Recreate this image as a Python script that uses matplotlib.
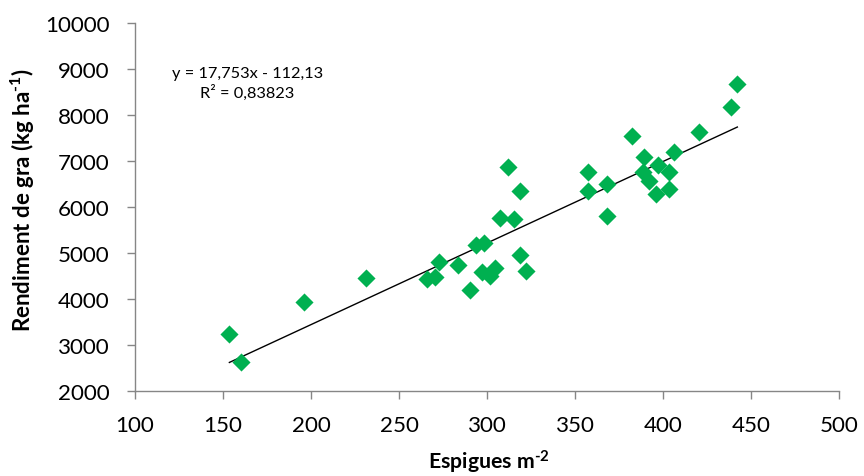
import matplotlib
matplotlib.use("Agg")
import matplotlib.pyplot as plt
import numpy as np

plt.rcParams['font.family'] = ['Lato', 'DejaVu Sans']
plt.rcParams['mathtext.fontset'] = 'custom'
plt.rcParams['mathtext.rm'] = 'Lato:bold'
plt.rcParams['mathtext.bf'] = 'Lato:bold'
plt.rcParams['mathtext.default'] = 'bf'

espigues = [153.6, 160.4, 195.8, 231.0, 265.7, 270.1, 272.9, 283.7, 290.4, 293.8,
            297.1, 298.0, 301.4, 304.7, 307.5, 311.7, 315.5, 318.6, 318.6, 322.3,
            357.5, 357.5, 368.0, 368.0, 382.2, 388.3, 388.9, 392.0, 395.9, 396.9,
            403.5, 403.5, 406.4, 420.6, 438.3, 442.1]
rendiment = [3240, 2630, 3940, 4450, 4430, 4470, 4790, 4740, 4190, 5170,
             4590, 5210, 4500, 4660, 5750, 6860, 5730, 6350, 4950, 4610,
             6750, 6350, 6500, 5800, 7540, 6750, 7090, 6570, 6280, 6910,
             6750, 6380, 7190, 7620, 8170, 8670]

slope = 17.753
intercept = -112.13
eq_text = "y = 17,753x - 112,13\nR² = 0,83823"

x_ticks = [100, 150, 200, 250, 300, 350, 400, 450, 500]
y_ticks = [2000, 3000, 4000, 5000, 6000, 7000, 8000, 9000, 10000]

H = 477
fig = plt.figure(figsize=(8.64, 4.77), dpi=100)
ax = fig.add_axes([135/864, 1-391.7/H, (839.3-135)/864, (391.7-24)/H])

ax.scatter(espigues, rendiment, marker='D', s=85, color='#00B050', linewidths=0, zorder=3)
xl = np.array([min(espigues), max(espigues)])
ax.plot(xl, slope*xl + intercept, color='black', lw=1.0, zorder=2)

ax.set_xlim(100, 500)
ax.set_ylim(2000, 10000)
ax.set_xticks(x_ticks)
ax.set_yticks(y_ticks)
ax.set_xticklabels([str(v) for v in x_ticks])
ax.set_yticklabels([str(v) for v in y_ticks])
ax.tick_params(axis='both', labelsize=16, color='#868686', length=5.5, width=1, direction='out')
ax.tick_params(axis='x', pad=12)
ax.tick_params(axis='y', pad=13)

for s in ['top', 'right']:
    ax.spines[s].set_visible(False)
for s in ['left', 'bottom']:
    ax.spines[s].set_color('#868686')
    ax.spines[s].set_linewidth(1)

xlab = fig.text(489/864, 1-470/H, "Espigues m$^{\\text{-2}}$", ha='center', va='baseline',
                fontsize=13, fontweight='bold')
ylab = fig.text(23/864, 1-200/H, "Rendiment de gra (kg ha$^{\\text{-1}}$)", ha='center', va='center',
                rotation=90, fontsize=13, fontweight='bold')
eq = fig.text(247.5/864, 1-84/H, eq_text, ha='center', va='center', fontsize=12,
              multialignment='center', linespacing=1.35)

# scale text sizes to match measured pixel extents of the reference
fig.canvas.draw()
r = fig.canvas.get_renderer()
def fit(t, target, use_height=False):
    bb = t.get_window_extent(r)
    cur = bb.height if use_height else bb.width
    t.set_fontsize(t.get_fontsize() * target / cur)
fit(xlab, 122)
fit(ylab, 264, use_height=True)
fit(eq, 151)
lab = ax.get_yticklabels()[-1]
w = lab.get_window_extent(r).width
ax.tick_params(axis='both', labelsize=16 * 65 / w)

fig.savefig("out.png", dpi=100)
